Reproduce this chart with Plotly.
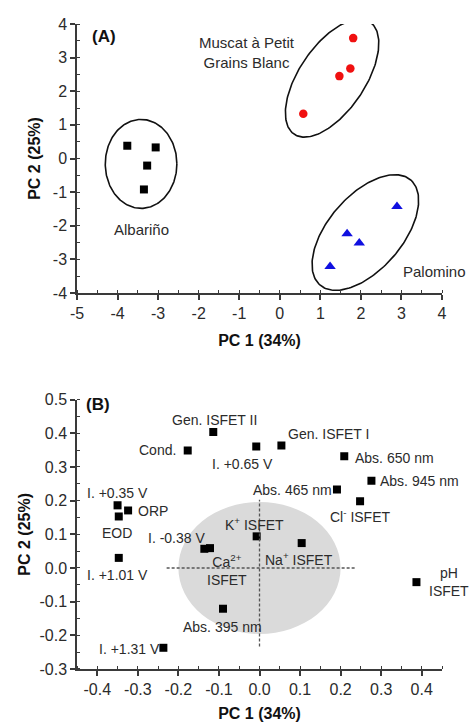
import numpy as np
import plotly.graph_objects as go

# ---------------- data: panel A (scores) ----------------
alb_x = [-3.76, -3.06, -3.27, -3.35]
alb_y = [0.38, 0.33, -0.21, -0.92]
mus_x = [1.81, 1.74, 1.47, 0.58]
mus_y = [3.58, 2.68, 2.45, 1.33]
pal_x = [2.89, 1.66, 1.96, 1.24]
pal_y = [-1.43, -2.24, -2.51, -3.21]

group_names = ["Albariño", "Muscat à Petit<br>Grains Blanc", "Palomino"]
group_label_x = [-3.40, -0.82, 3.00]
group_label_y = [-2.10, 3.15, -3.36]

# ellipse guides: centre (data), semi-axes (px), tilt (deg)
ell_cx = [-3.42, 1.29, 2.11]
ell_cy = [-0.16, 2.39, -2.20]
ell_a = [35.8, 67.7, 69.4]
ell_b = [44.5, 32.9, 37.0]
ell_ang = [0.0, 55.9, 49.2]

xA_ticks = [-5, -4, -3, -2, -1, 0, 1, 2, 3, 4]
xA_text = ["-5", "-4", "-3", "-2", "-1", "0", "1", "2", "3", "4"]
yA_ticks = [-4, -3, -2, -1, 0, 1, 2, 3, 4]
yA_text = ["-4", "-3", "-2", "-1", "0", "1", "2", "3", "4"]

# ---------------- data: panel B (loadings) ----------------
var_names = ["Gen. ISFET II", "Cond.", "I. +0.65 V", "Gen. ISFET I", "Abs. 650 nm",
             "Abs. 945 nm", "Abs. 465 nm", "Cl<sup>-</sup> ISFET", "I. +0.35 V", "ORP",
             "EOD", "I. +1.01 V", "I. -0.38 V", "Ca<sup>2+</sup><br>ISFET",
             "K<sup>+</sup> ISFET", "Na<sup>+</sup> ISFET", "pH<br>ISFET",
             "Abs. 395 nm", "I. +1.31 V"]
load_x = [-0.114, -0.177, -0.008, 0.054, 0.209, 0.276, 0.191, 0.248, -0.350, -0.324,
          -0.347, -0.347, -0.136, -0.122, -0.007, 0.104, 0.387, -0.090, -0.237]
load_y = [0.404, 0.349, 0.361, 0.364, 0.332, 0.259, 0.233, 0.198, 0.186, 0.171,
          0.153, 0.030, 0.057, 0.059, 0.094, 0.074, -0.042, -0.121, -0.237]
# label offsets from the point (px)
lab_dx = [1, -30, -14, 47, 50, 48, -44, 0, 0, 25, -2, -1, -28, 17, -2, -3, 11, -1, -34]
lab_dy = [12, 0, -18, 11, -2, 0, 0, -15, 12, -1, -17, -17, 11, -22, 12, -16, 0, -18, -1]
lab_anchor = ["center"] * 16 + ["left", "center", "center"]

xB_ticks = [-0.4, -0.3, -0.2, -0.1, 0.0, 0.1, 0.2, 0.3, 0.4]
xB_text = ["-0.4", "-0.3", "-0.2", "-0.1", "0.0", "0.1", "0.2", "0.3", "0.4"]
yB_ticks = [-0.3, -0.2, -0.1, 0.0, 0.1, 0.2, 0.3, 0.4, 0.5]
yB_text = ["-0.3", "-0.2", "-0.1", "0.0", "0.1", "0.2", "0.3", "0.4", "0.5"]

# ---------------- layout constants ----------------
W, H = 469, 722
ML, MR, MT, MB = 77, 27, 24, 53
domA = [0.5829, 1.0]
domB = [0.0, 0.4176]
xA_rng = [-5, 4]
yA_rng = [-4, 4]
xB_rng = [-0.45, 0.45]
yB_rng = [-0.3, 0.5]

FONT = "Liberation Sans, Arial, sans-serif"
TXT = "#2b2b2b"
AX = "#3a3a3a"

fig = go.Figure()

fig.add_trace(go.Scatter(x=alb_x, y=alb_y, mode="markers", xaxis="x", yaxis="y",
                         marker=dict(symbol="square", size=8, color="black"), showlegend=False))
fig.add_trace(go.Scatter(x=mus_x, y=mus_y, mode="markers", xaxis="x", yaxis="y",
                         marker=dict(symbol="circle", size=8.5, color="#f01010"), showlegend=False))
fig.add_trace(go.Scatter(x=pal_x, y=pal_y, mode="markers", xaxis="x", yaxis="y",
                         marker=dict(symbol="triangle-up", size=10, color="#1010e0"), showlegend=False))

# ellipses (px -> data scaling)
pw = W - ML - MR
ph = H - MT - MB
sx = pw / (xA_rng[1] - xA_rng[0])
sy = ph * (domA[1] - domA[0]) / (yA_rng[1] - yA_rng[0])
t = np.linspace(0, 2 * np.pi, 200)
for cx, cy, a, b, ang in zip(ell_cx, ell_cy, ell_a, ell_b, ell_ang):
    th = np.deg2rad(ang)
    px = a * np.cos(th) * np.cos(t) - b * np.sin(th) * np.sin(t)
    py = a * np.sin(th) * np.cos(t) + b * np.cos(th) * np.sin(t)
    fig.add_trace(go.Scatter(x=cx + px / sx, y=cy + py / sy, mode="lines", xaxis="x", yaxis="y",
                             line=dict(color="#111111", width=1.6), hoverinfo="skip", showlegend=False))

fig.add_trace(go.Scatter(x=load_x, y=load_y, mode="markers", xaxis="x2", yaxis="y2",
                         marker=dict(symbol="square", size=8, color="black"), showlegend=False))

annotations = []
for name, lx, ly in zip(group_names, group_label_x, group_label_y):
    annotations.append(dict(x=lx, y=ly, xref="x", yref="y", text=name, showarrow=False,
                            xanchor="left" if name == "Palomino" else "center",
                            font=dict(family=FONT, size=15, color=TXT)))
annotations.append(dict(x=-4.33, y=3.64, xref="x", yref="y", text="<b>(A)</b>", showarrow=False,
                        font=dict(family=FONT, size=17, color="#111")))
annotations.append(dict(x=-0.399, y=0.485, xref="x2", yref="y2", text="<b>(B)</b>", showarrow=False,
                        font=dict(family=FONT, size=17, color="#111")))
for name, x, y, dx, dy, anc in zip(var_names, load_x, load_y, lab_dx, lab_dy, lab_anchor):
    annotations.append(dict(x=x, y=y, xref="x2", yref="y2", text=name, showarrow=False,
                            xshift=dx, yshift=dy, xanchor=anc,
                            font=dict(family=FONT, size=14, color=TXT)))

shapes = [
    dict(type="circle", xref="x2", yref="y2", x0=-0.2, x1=0.2, y0=-0.196, y1=0.196,
         fillcolor="#dadada", line=dict(width=0), layer="below"),
    dict(type="line", xref="x2", yref="y2", x0=-0.229, x1=0.236, y0=0, y1=0,
         line=dict(color="#555", width=1.3, dash="3px,2px")),
    dict(type="line", xref="x2", yref="y2", x0=0, x1=0, y0=-0.233, y1=0.203,
         line=dict(color="#555", width=1.3, dash="3px,2px")),
]


def axis(rng, dom, tv, tt, minor_dt, title, anchor, standoff):
    return dict(range=rng, domain=dom, tickvals=tv, ticktext=tt, anchor=anchor,
                showline=True, linecolor=AX, linewidth=1.5, mirror=False,
                ticks="outside", ticklen=5, tickwidth=1.5, tickcolor=AX,
                minor=dict(ticks="inside", ticklen=3, tickwidth=1.2, tickcolor=AX, dtick=minor_dt,
                           tick0=0, showgrid=False),
                showgrid=False, zeroline=False, fixedrange=True, automargin=False,
                tickfont=dict(family=FONT, size=16, color=TXT),
                title=dict(text=f"<b>{title}</b>", standoff=standoff,
                           font=dict(family=FONT, size=16, color="#111")))


fig.update_layout(
    width=W, height=H, margin=dict(l=ML, r=MR, t=MT, b=MB),
    paper_bgcolor="white", plot_bgcolor="white",
    xaxis=axis(xA_rng, [0, 1], xA_ticks, xA_text, 0.5, "PC 1 (34%)", "y", 14),
    yaxis=axis(yA_rng, domA, yA_ticks, yA_text, 0.5, "PC 2 (25%)", "x", 8),
    xaxis2=axis(xB_rng, [0, 1], xB_ticks, xB_text, 0.05, "PC 1 (34%)", "y2", 15),
    yaxis2=axis(yB_rng, domB, yB_ticks, yB_text, 0.05, "PC 2 (25%)", "x2", 5),
    annotations=annotations, shapes=shapes,
)

fig.write_html("out.html")
